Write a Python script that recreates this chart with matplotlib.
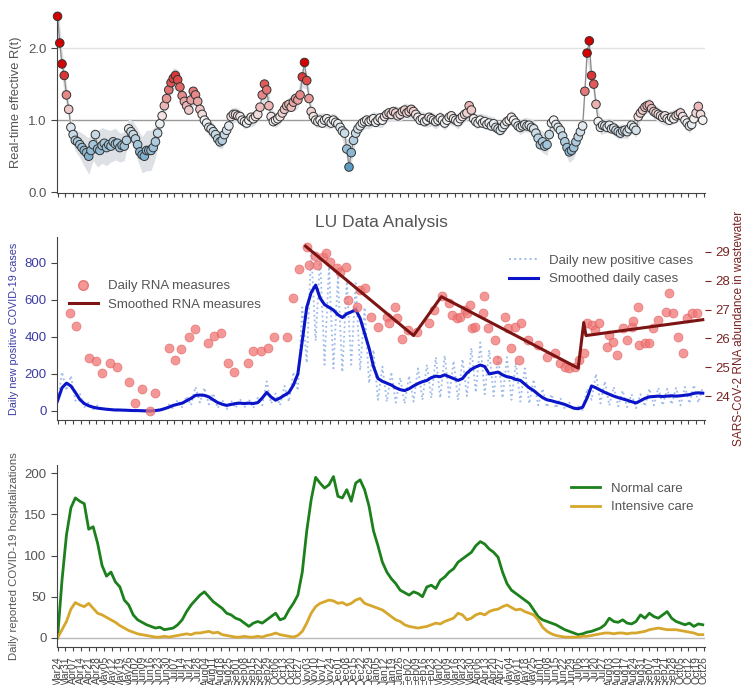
import numpy as np
import pandas as pd
import matplotlib
matplotlib.use('Agg')
import matplotlib.pyplot as plt
from matplotlib.colors import LinearSegmentedColormap, TwoSlopeNorm
from matplotlib.lines import Line2D

plt.rcParams['font.family'] = ['Liberation Sans', 'DejaVu Sans']

start = pd.Timestamp('2020-03-24')

# real-time R(t), one estimate every 2 days
rt = [2.44, 2.07, 1.78, 1.62, 1.35, 1.15, 0.9, 0.8, 0.72, 0.7,
      0.66, 0.62, 0.58, 0.55, 0.5, 0.58, 0.66, 0.8, 0.6, 0.58,
      0.65, 0.68, 0.62, 0.66, 0.64, 0.7, 0.67, 0.68, 0.62, 0.65,
      0.64, 0.72, 0.88, 0.84, 0.8, 0.74, 0.66, 0.56, 0.52, 0.5,
      0.58, 0.58, 0.58, 0.62, 0.7, 0.82, 0.95, 1.06, 1.2, 1.3,
      1.42, 1.52, 1.58, 1.62, 1.56, 1.46, 1.34, 1.26, 1.2, 1.14,
      1.28, 1.4, 1.35, 1.26, 1.15, 1.08, 1.0, 0.96, 0.9, 0.88,
      0.84, 0.8, 0.74, 0.7, 0.72, 0.8, 0.86, 0.92, 1.05, 1.08,
      1.08, 1.06, 1.05, 1.0, 0.98, 0.96, 1.0, 1.04, 1.02, 1.05,
      1.08, 1.18, 1.35, 1.5, 1.42, 1.2, 1.05, 0.98, 1.0, 1.02,
      1.05, 1.1, 1.15, 1.2, 1.22, 1.18, 1.25, 1.3, 1.28, 1.35,
      1.6, 1.8, 1.55, 1.3, 1.12, 1.05, 1.0, 0.98, 1.0, 0.96,
      1.0, 1.02, 0.98, 0.96, 1.0, 0.97, 0.95, 0.9, 0.85, 0.82,
      0.6, 0.35, 0.55, 0.72, 0.82, 0.88, 0.92, 0.96, 0.98, 1.0,
      0.98, 1.0, 1.02, 0.97, 1.0, 1.03, 1.0, 1.05, 1.08, 1.1,
      1.08, 1.12, 1.1, 1.06, 1.08, 1.12, 1.14, 1.1, 1.12, 1.15,
      1.12, 1.08, 1.04, 1.0, 1.02, 0.98, 1.0, 1.04, 1.02, 1.0,
      0.98, 1.0, 1.03, 1.0, 0.96, 1.0, 1.04, 1.06, 1.02, 1.0,
      0.98, 1.02, 1.05, 1.08, 1.1, 1.2, 1.14, 1.02, 0.98, 0.96,
      1.0, 0.96, 0.98, 0.94, 0.96, 0.92, 0.95, 0.9, 0.88, 0.86,
      0.9, 0.94, 0.98, 1.0, 1.04, 1.0, 0.96, 0.92, 0.9, 0.92,
      0.94, 0.92, 0.93, 0.9, 0.88, 0.82, 0.75, 0.66, 0.7, 0.64,
      0.66, 0.8, 0.96, 1.0, 0.94, 0.9, 0.86, 0.78, 0.7, 0.62,
      0.56, 0.58, 0.62, 0.7, 0.77, 0.84, 0.92, 1.4, 1.93, 2.1,
      1.62, 1.5, 1.22, 0.98, 0.9, 0.93, 0.92, 0.9, 0.93, 0.88,
      0.89, 0.86, 0.84, 0.82, 0.85, 0.86, 0.84, 0.88, 0.93, 0.9,
      0.86, 1.05, 1.1, 1.14, 1.18, 1.2, 1.21, 1.16, 1.12, 1.1,
      1.08, 1.06, 1.04, 1.06, 1.02, 1.0, 1.04, 1.02, 1.06, 1.08,
      1.1, 1.05, 1.0, 0.96, 0.92, 0.94, 1.02, 1.1, 1.19, 1.08, 1.0]

# half-width of the R(t) uncertainty band, every 4 days
rt_band = [0.25, 0.2, 0.15, 0.12, 0.15, 0.18, 0.22, 0.25, 0.22, 0.25,
           0.25, 0.25, 0.22, 0.22, 0.2, 0.2, 0.15, 0.18, 0.22, 0.25,
           0.28, 0.28, 0.22, 0.18, 0.15, 0.15, 0.15, 0.14, 0.12, 0.12,
           0.12, 0.12, 0.12, 0.12, 0.12, 0.12, 0.12, 0.12, 0.12, 0.12,
           0.1, 0.1, 0.1, 0.1, 0.1, 0.1, 0.12, 0.14, 0.12, 0.1,
           0.1, 0.1, 0.1, 0.12, 0.12, 0.15, 0.12, 0.1, 0.1, 0.1,
           0.1, 0.1, 0.1, 0.1, 0.12, 0.15, 0.15, 0.12, 0.1, 0.1,
           0.1, 0.1, 0.1, 0.1, 0.1, 0.1, 0.1, 0.1, 0.1, 0.1,
           0.1, 0.1, 0.1, 0.1, 0.1, 0.1, 0.1, 0.1, 0.1, 0.1,
           0.1, 0.1, 0.1, 0.1, 0.1, 0.1, 0.1, 0.1, 0.1, 0.1,
           0.1, 0.1, 0.1, 0.1, 0.1, 0.1, 0.1, 0.12, 0.14, 0.15,
           0.15, 0.12, 0.1, 0.12, 0.15, 0.15, 0.15, 0.12, 0.1, 0.1,
           0.1, 0.1, 0.1, 0.1, 0.1, 0.1, 0.1, 0.1, 0.1, 0.1,
           0.1, 0.1, 0.1, 0.1, 0.1, 0.1, 0.1, 0.1, 0.1, 0.1,
           0.1, 0.1, 0.1, 0.1, 0.1, 0.1]

# cases and hospital counts, every 4 days
cases_daily = [40, 210, 110, 190, 55, 95, 20, 45, 8, 30,
               4, 18, 2, 12, 1, 9, 0, 6, 0, 4,
               0, 3, 0, 12, 3, 35, 12, 60, 20, 80,
               30, 130, 45, 125, 35, 95, 15, 60, 10, 55,
               15, 65, 18, 62, 15, 70, 30, 160, 40, 95,
               30, 135, 50, 210, 110, 560, 260, 870, 380, 830,
               250, 780, 230, 720, 210, 700, 250, 690, 220, 560,
               150, 330, 60, 240, 50, 210, 45, 180, 40, 190,
               50, 230, 60, 250, 70, 290, 70, 300, 75, 270,
               60, 280, 80, 340, 100, 370, 90, 330, 80, 300,
               70, 290, 60, 260, 50, 230, 40, 170, 30, 120,
               20, 90, 15, 70, 10, 45, 5, 25, 5, 120,
               60, 200, 40, 160, 30, 130, 25, 110, 20, 90,
               15, 90, 25, 120, 30, 125, 30, 120, 35, 125,
               30, 130, 40, 140, 45, 130]

cases_smooth = [55, 125, 150, 135, 100, 62, 40, 28, 20, 15,
                12, 9, 7, 5, 5, 4, 3, 2, 2, 1,
                0, 0, 2, 5, 12, 20, 30, 36, 42, 55,
                68, 84, 86, 84, 76, 60, 45, 36, 30, 35,
                40, 42, 40, 42, 40, 45, 70, 100, 75, 58,
                70, 85, 100, 140, 200, 380, 560, 640, 680, 610,
                575, 560, 545, 520, 505, 525, 535, 548, 500, 420,
                340, 240, 175, 160, 150, 140, 125, 115, 110, 120,
                135, 148, 158, 165, 180, 188, 185, 195, 185, 175,
                165, 175, 205, 225, 238, 248, 240, 200, 205, 210,
                195, 185, 180, 170, 165, 145, 125, 110, 90, 72,
                60, 55, 48, 42, 35, 25, 15, 12, 20, 70,
                135, 125, 112, 100, 90, 80, 72, 65, 58, 50,
                43, 55, 68, 76, 78, 80, 78, 80, 82, 80,
                82, 85, 88, 95, 98, 96]

hosp_normal = [0, 70, 125, 158, 170, 166, 163, 132, 135, 115,
               88, 75, 80, 68, 62, 46, 40, 28, 22, 19,
               16, 14, 12, 13, 10, 11, 12, 16, 22, 32,
               40, 46, 52, 56, 50, 44, 40, 36, 30, 28,
               24, 22, 18, 14, 18, 20, 18, 22, 26, 30,
               22, 24, 34, 42, 52, 80, 130, 168, 195, 188,
               182, 186, 196, 172, 170, 180, 166, 188, 192, 180,
               160, 130, 112, 92, 80, 72, 66, 58, 55, 52,
               56, 54, 50, 62, 64, 60, 70, 74, 80, 84,
               92, 96, 100, 104, 112, 117, 114, 108, 104, 98,
               80, 66, 58, 54, 50, 46, 42, 34, 26, 22,
               20, 18, 16, 13, 10, 8, 6, 4, 5, 7,
               8, 10, 12, 16, 24, 20, 19, 22, 18, 17,
               20, 28, 24, 30, 26, 24, 28, 32, 24, 20,
               18, 16, 18, 14, 17, 16]

hosp_icu = [0, 10, 20, 35, 43, 40, 38, 42, 36, 30,
            28, 25, 22, 19, 15, 12, 9, 7, 5, 4,
            3, 2, 1, 1, 2, 1, 2, 3, 4, 5,
            4, 6, 6, 7, 8, 6, 7, 4, 3, 2,
            1, 1, 2, 1, 1, 2, 1, 3, 4, 6,
            4, 3, 2, 1, 3, 8, 18, 30, 38, 42,
            44, 46, 45, 42, 43, 40, 42, 46, 48, 42,
            40, 38, 36, 34, 30, 26, 22, 20, 16, 14,
            13, 12, 13, 14, 16, 18, 17, 20, 22, 24,
            30, 28, 22, 24, 28, 30, 28, 32, 34, 35,
            38, 40, 37, 34, 35, 32, 30, 28, 22, 13,
            8, 5, 3, 2, 1, 1, 1, 1, 2, 2,
            3, 4, 5, 6, 6, 5, 6, 6, 5, 6,
            6, 7, 8, 10, 11, 12, 11, 10, 10, 10,
            9, 8, 7, 6, 4, 4]

# wastewater samples (days since start) and Ct-like abundance
rna_day = [11, 17, 28, 35, 40, 47, 53, 64, 70, 76, 83, 88, 100, 106, 111, 118,
           124, 135, 141, 147, 153, 159, 171, 176, 183, 189, 195, 206, 212, 217,
           224, 226, 231, 233, 239, 241, 245, 251, 254, 259, 261, 269, 272, 276,
           282, 288, 296, 298, 303, 305, 310, 315, 323, 334, 338, 346, 352, 355,
           359, 362, 366, 368, 371, 373, 375, 382, 383, 387, 393, 395, 402, 405,
           408, 411, 415, 417, 423, 432, 440, 447, 452, 456, 460, 465, 469, 473,
           476, 480, 483, 487, 494, 496, 499, 503, 508, 512, 516, 517, 522, 523,
           528, 532, 535, 540, 547, 550, 553, 558, 562, 566, 570, 575]
rna_value = [26.88, 26.43, 25.32, 25.22, 24.8, 25.15, 25.0, 24.49, 23.76, 24.24,
             23.48, 24.1, 25.67, 25.25, 25.63, 26.05, 26.33, 25.84, 26.08, 26.19,
             25.15, 24.83, 25.15, 25.56, 25.56, 25.67, 26.05, 26.05, 27.4, 28.4,
             29.17, 28.55, 28.86, 28.55, 28.83, 28.97, 28.65, 28.44, 28.3, 28.48,
             27.33, 27.09, 27.68, 27.75, 26.74, 26.4, 26.74, 26.53, 27.09, 26.7,
             25.98, 26.29, 26.22, 26.53, 26.99, 27.47, 27.23, 26.81, 26.7, 26.74,
             26.99, 26.88, 27.16, 26.36, 26.4, 26.88, 27.47, 26.36, 25.94, 25.25,
             26.74, 26.36, 25.67, 26.4, 25.25, 26.53, 25.94, 25.77, 25.35, 25.49,
             25.15, 25.0, 24.97, 25.0, 25.25, 25.49, 26.53, 26.47, 26.29, 26.53,
             25.7, 26.12, 25.88, 25.42, 26.36, 25.94, 26.4, 26.6, 27.09, 25.77,
             25.84, 25.84, 26.36, 26.64, 26.92, 27.58, 26.88, 26.05, 25.49, 26.7,
             26.88, 26.88]

# piecewise smoothed RNA trend
rna_fit_day = [223, 320, 345, 468, 473, 475, 580]
rna_fit_value = [29.2, 26.1, 27.45, 24.97, 26.55, 26.1, 26.65]

rt_dates = pd.date_range(start, periods=len(rt), freq='2D')
dates = pd.date_range(start, periods=len(cases_smooth), freq='4D')
rna_dates = start + pd.to_timedelta(rna_day, unit='D')
fit_dates = start + pd.to_timedelta(rna_fit_day, unit='D')
ticks = pd.date_range(start, start + pd.Timedelta(days=581), freq='7D')
xmin, xmax = start - pd.Timedelta(days=0.5), start + pd.Timedelta(days=582)

W, H = 741, 685
fig = plt.figure(figsize=(W / 100, H / 100), dpi=100)


def box(l, t, r, b):
    return [l / W, 1 - b / H, (r - l) / W, (b - t) / H]


grey = '#555555'
ax1 = fig.add_axes(box(57, 12, 705, 193))
ax2 = fig.add_axes(box(57, 237, 705, 420))
ax3 = fig.add_axes(box(57, 465, 705, 647))

for ax in (ax1, ax2, ax3):
    ax.spines['top'].set_visible(False)
    ax.spines['right'].set_visible(False)
    ax.spines['left'].set_color('#444444')
    ax.spines['bottom'].set_color('#444444')
    ax.set_xlim(xmin, xmax)
    ax.set_xticks(ticks)
    ax.tick_params(axis='both', colors='#444444', labelcolor=grey, labelsize=9.5, length=4)
    ax.tick_params(axis='x', length=3)

# ---------------- R(t) ----------------
rt_arr = np.array(rt)
band_mid = rt_arr[::2]
band = np.array(rt_band)
ax1.fill_between(dates, band_mid - band, band_mid + band, color='#dde1e6', lw=0, zorder=1)
ax1.axhline(1.0, color='#9a9a9a', lw=1, zorder=0)
ax1.axhline(2.0, color='#e2e2e2', lw=1, zorder=0)
ax1.plot(rt_dates, rt, color='#8a8a8a', lw=0.9, zorder=2)
rt_cmap = LinearSegmentedColormap.from_list('rt', ['#3a88b8', '#f4f4f4', '#d40000'])
rt_norm = TwoSlopeNorm(vcenter=1.0, vmin=0.2, vmax=1.8)
ax1.scatter(rt_dates, rt, c=np.clip(rt, 0.2, 1.8), cmap=rt_cmap, norm=rt_norm, s=38,
            edgecolors='#333333', linewidths=0.7, zorder=3, clip_on=False)
ax1.set_ylim(-0.01, 2.5)
ax1.set_yticks([0, 1, 2])
ax1.set_yticklabels(['0.0', '1.0', '2.0'])
ax1.set_xticklabels([])
ax1.set_ylabel('Real-time effective R(t)', color=grey, fontsize=9.3)
ax1.yaxis.set_label_coords(-0.054, 0.5)

# ---------------- cases and wastewater ----------------
blue_txt = '#3b3ba6'
red_txt = '#7a2424'
ax2.plot(dates, cases_daily, ls=':', color='#9fbbe8', lw=1.3)
ax2.plot(dates, cases_smooth, color='#0a14c8', lw=2.2)
ax2.set_ylim(-49, 940)
ax2.set_yticks([0, 200, 400, 600, 800])
ax2.tick_params(axis='y', labelcolor=blue_txt)
ax2.set_xticklabels([])
ax2.set_ylabel('Daily new positive COVID-19 cases', color=blue_txt, fontsize=7.8)
ax2.yaxis.set_label_coords(-0.058, 0.5)

ax2r = ax2.twinx()
for s in ('top', 'right', 'left', 'bottom'):
    ax2r.spines[s].set_visible(False)
ax2r.scatter(rna_dates, rna_value, s=42, color='#f07474', alpha=0.75,
             edgecolors='#e06060', linewidths=0.5, zorder=3)
ax2r.plot(fit_dates, rna_fit_value, color='#7d1414', lw=2.2, zorder=4)
ax2r.set_ylim(23.17, 29.52)
ax2r.set_yticks([24, 25, 26, 27, 28, 29])
ax2r.tick_params(axis='y', colors=red_txt, labelcolor=red_txt, labelsize=9.5, length=4)
ax2r.set_xlim(xmin, xmax)
ax2r.set_ylabel('SARS-CoV-2 RNA abundance in wastewater', color=red_txt, fontsize=8.6)
ax2r.yaxis.set_label_coords(1.043, 0.5)

fig.text(381 / W, 1 - 222 / H, 'LU Data Analysis', ha='center', va='center',
         fontsize=12.5, color=grey)

h_rna = [Line2D([], [], ls='none', marker='o', ms=7, color='#f07474', alpha=0.75,
                markeredgecolor='#e06060'),
         Line2D([], [], color='#7d1414', lw=2.2)]
leg = ax2r.legend(h_rna, ['Daily RNA measures', 'Smoothed RNA measures'],
                  loc='upper left', bbox_to_anchor=(0.0, 0.83), frameon=False,
                  fontsize=9.5, handlelength=2.2)
for t in leg.get_texts():
    t.set_color(grey)

h_cases = [Line2D([], [], ls=':', color='#9fbbe8', lw=1.4),
           Line2D([], [], color='#0a14c8', lw=2.2)]
leg = ax2.legend(h_cases, ['Daily new positive cases', 'Smoothed daily cases'],
                 loc='upper right', bbox_to_anchor=(1.0, 0.97), frameon=False,
                 fontsize=9.5, handlelength=2.2)
for t in leg.get_texts():
    t.set_color(grey)

# ---------------- hospitalizations ----------------
ax3.axhline(0, color='#bbbbbb', lw=1, zorder=0)
ax3.plot(dates, hosp_normal, color='#1c801c', lw=2, label='Normal care')
ax3.plot(dates, hosp_icu, color='#d6a72c', lw=2, label='Intensive care')
ax3.set_ylim(-11, 210)
ax3.set_yticks([0, 50, 100, 150, 200])
ax3.set_ylabel('Daily reported COVID-19 hospitalizations', color=grey, fontsize=8.2)
ax3.yaxis.set_label_coords(-0.058, 0.5)
ax3.set_xticklabels([d.strftime('%b%d') for d in ticks], rotation=90, fontsize=7.5,
                    color='#444444')
leg = ax3.legend(loc='upper right', bbox_to_anchor=(1.0, 0.97), frameon=False,
                 fontsize=9.5, handlelength=2.2)
for t in leg.get_texts():
    t.set_color(grey)

plt.savefig('out.png', dpi=100)
